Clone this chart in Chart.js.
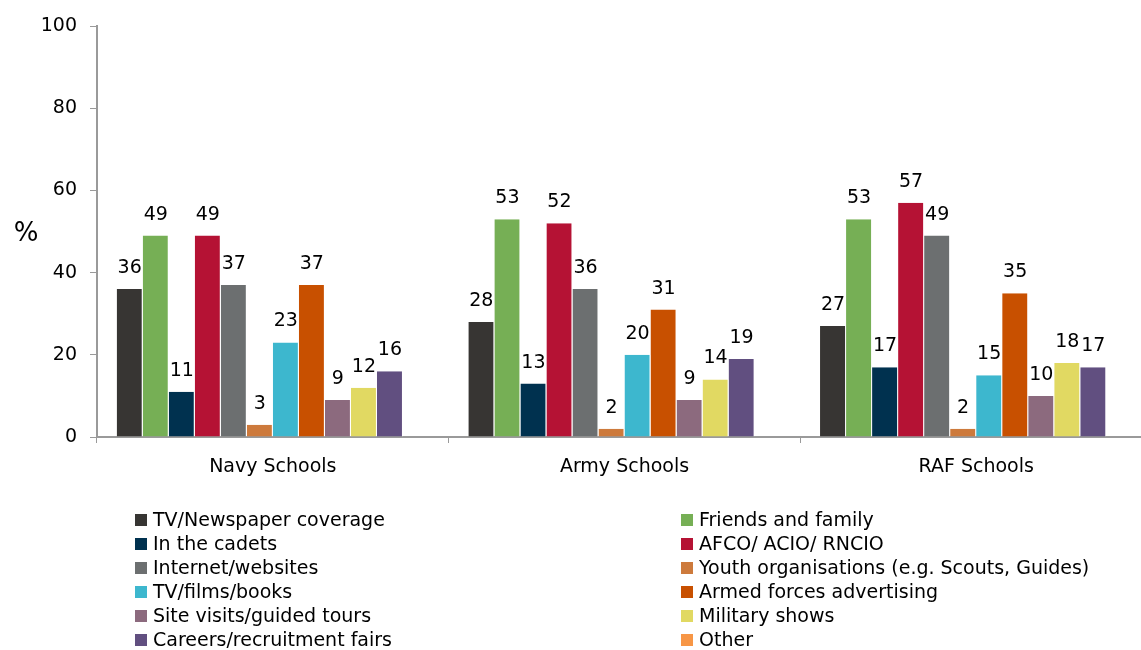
<!DOCTYPE html>
<html><head><meta charset="utf-8">
<script src="https://cdn.jsdelivr.net/npm/chart.js@4.4.0/dist/chart.umd.min.js"></script>
<style>html,body{margin:0;padding:0;overflow:hidden;background:#fff}#wrap{position:relative;width:1152px;height:650px}</style>
</head><body><div id="wrap"><canvas id="c"></canvas></div>
<script>
const categories = ['Navy Schools', 'Army Schools', 'RAF Schools'];
const yTicks = [0, 20, 40, 60, 80, 100];
const seriesNames = ['TV/Newspaper coverage', 'Friends and family', 'In the cadets', 'AFCO/ ACIO/ RNCIO',
  'Internet/websites', 'Youth organisations (e.g. Scouts, Guides)', 'TV/films/books', 'Armed forces advertising',
  'Site visits/guided tours', 'Military shows', 'Careers/recruitment fairs', 'Other'];
const tvNewspaper = [36, 28, 27];
const friendsFamily = [49, 53, 53];
const inCadets = [11, 13, 17];
const afco = [49, 52, 57];
const internet = [37, 36, 49];
const youthOrgs = [3, 2, 2];
const tvFilmsBooks = [23, 20, 15];
const armedAdvertising = [37, 31, 35];
const siteVisits = [9, 9, 10];
const militaryShows = [12, 14, 18];
const careersFairs = [16, 19, 17];
const other = [null, null, null];
const seriesValues = [tvNewspaper, friendsFamily, inCadets, afco, internet, youthOrgs, tvFilmsBooks,
  armedAdvertising, siteVisits, militaryShows, careersFairs, other];
const colors = ['#373533', '#76AF55', '#00314F', '#B51234', '#6C6F70', '#CD7A3C', '#3DB7CE', '#C85000',
  '#8C6A7E', '#E1D962', '#614F80', '#F79646'];

const FONT = 'DejaVu Sans';
const FS = 19;

const extras = {
  id: 'extras',
  afterDatasetsDraw(chart) {
    const ctx = chart.ctx;
    ctx.save();
    ctx.fillStyle = '#000';
    ctx.font = FS + 'px "' + FONT + '"';
    ctx.textAlign = 'center';
    ctx.textBaseline = 'alphabetic';
    chart.data.datasets.forEach((ds, i) => {
      const meta = chart.getDatasetMeta(i);
      meta.data.forEach((bar, j) => {
        const v = ds.data[j];
        if (v === null || v === undefined) return;
        ctx.fillText(String(v), bar.x, bar.y - 16);
      });
    });
    // % label
    ctx.font = '26px "' + FONT + '"';
    ctx.textBaseline = 'middle';
    ctx.fillText('%', 26, 234);
    // legend
    ctx.font = FS + 'px "' + FONT + '"';
    ctx.textAlign = 'left';
    ctx.textBaseline = 'middle';
    seriesNames.forEach((name, i) => {
      const col = i % 2, row = Math.floor(i / 2);
      const bx = col === 0 ? 135 : 681;
      const cy = 520 + row * 24;
      ctx.fillStyle = colors[i];
      ctx.fillRect(bx, cy - 6, 12, 12);
      ctx.fillStyle = '#000';
      ctx.fillText(name, bx + 18, cy + 1);
    });
    ctx.restore();
  }
};

new Chart(document.getElementById('c'), {
  type: 'bar',
  data: {
    labels: categories,
    datasets: seriesNames.map((n, i) => ({
      label: n,
      data: seriesValues[i],
      backgroundColor: colors[i],
      borderColor: 'rgba(255,255,255,0.6)',
      borderWidth: { top: 0, left: 0, bottom: 0, right: 1 },
      borderSkipped: false,
      categoryPercentage: 0.888,
      barPercentage: 1.0
    }))
  },
  options: {
    responsive: true,
    maintainAspectRatio: false,
    animation: false,
    layout: { padding: { top: 26, left: 0, right: 0, bottom: 0 } },
    plugins: { legend: { display: false }, tooltip: { enabled: false } },
    scales: {
      x: {
        afterFit(s) { s.height = 213; },
        grid: { offset: true, drawOnChartArea: false, tickLength: 6, color: '#9a9a9a', lineWidth: 1 },
        border: { color: '#9a9a9a', width: 2 },
        ticks: { color: '#000', font: { family: FONT, size: FS }, padding: 13, maxRotation: 0 }
      },
      y: {
        min: 0, max: 100,
        afterFit(s) { s.width = 97; },
        afterBuildTicks(s) { s.ticks = yTicks.map(v => ({ value: v })); },
        grid: { drawOnChartArea: false, tickLength: 7, color: '#9a9a9a' },
        border: { color: '#9a9a9a', width: 2 },
        ticks: { color: '#000', font: { family: FONT, size: FS }, padding: 13 }
      }
    }
  },
  plugins: [extras]
});
</script>
</body></html>
